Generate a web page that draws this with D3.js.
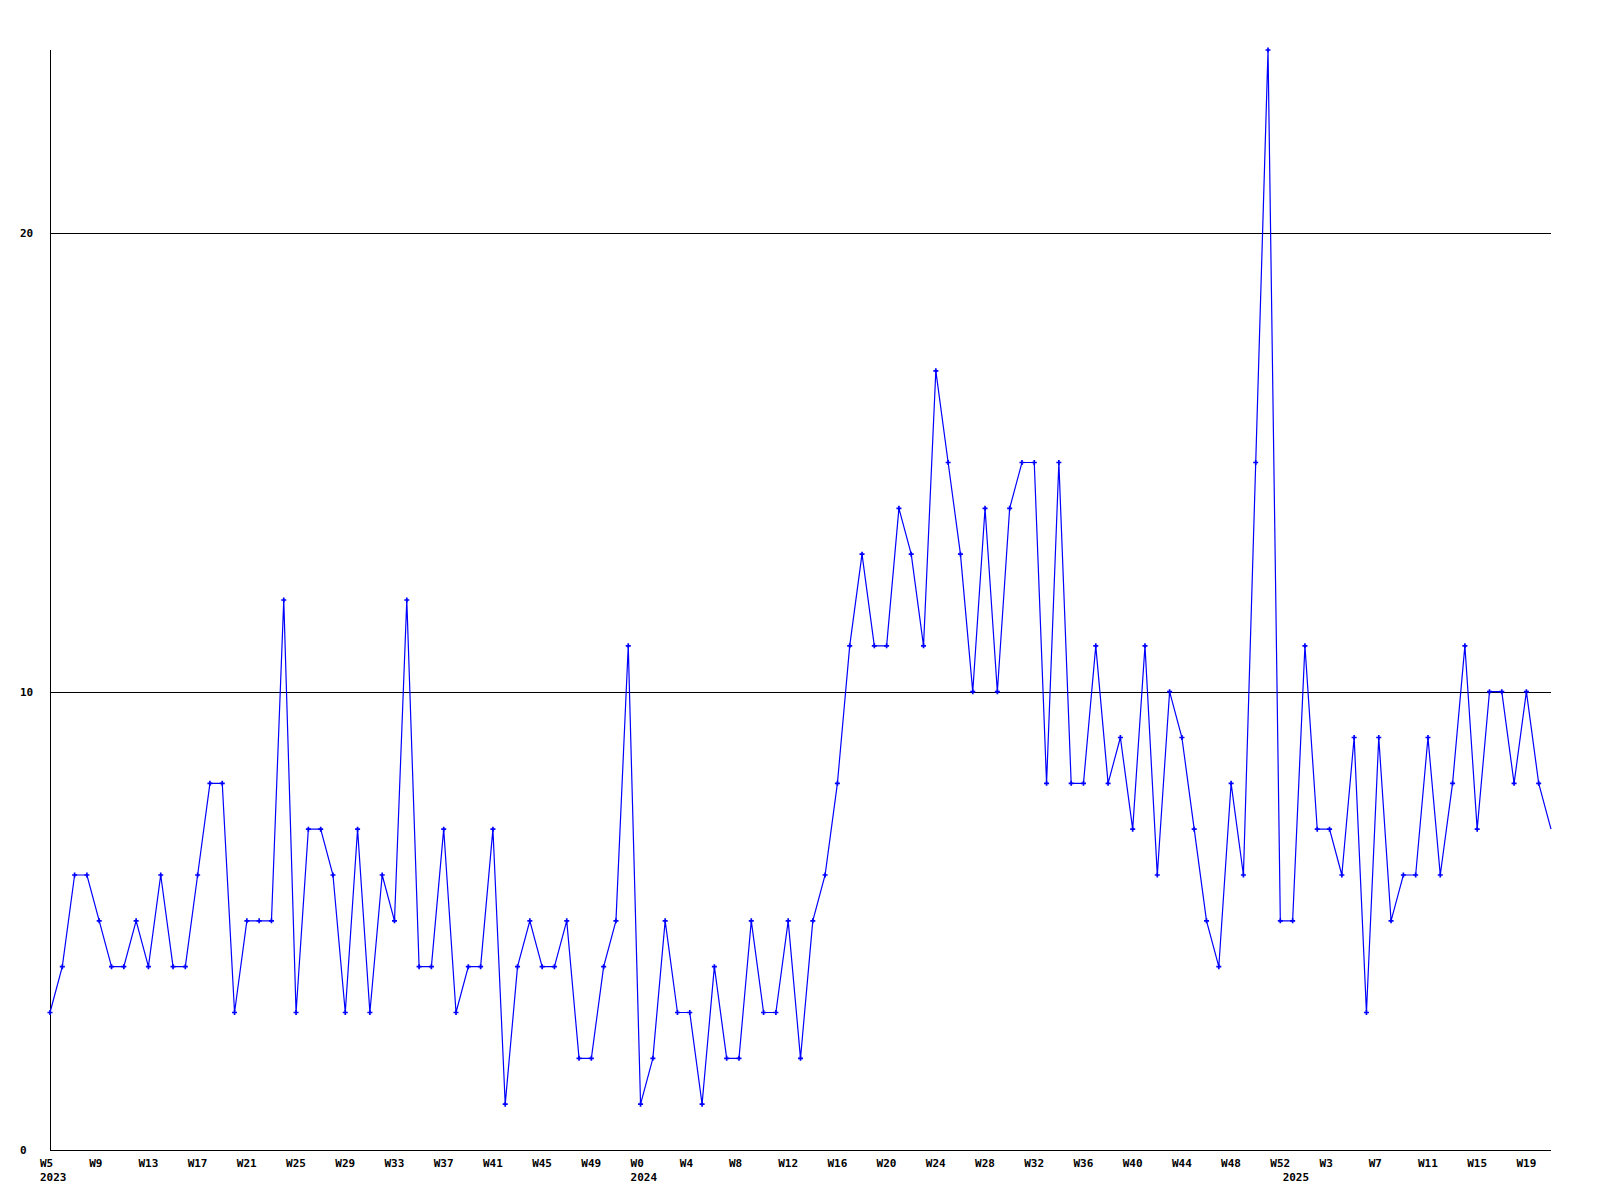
<!DOCTYPE html>
<html>
<head>
<meta charset="utf-8">
<script src="https://cdn.jsdelivr.net/npm/d3@7"></script>
<style>
  html, body { margin: 0; padding: 0; background: #ffffff; }
  svg { display: block; }
  text { font-family: "DejaVu Sans Mono", "Liberation Mono", monospace; font-weight: bold; font-size: 11px; fill: #000; }
</style>
</head>
<body>
<svg id="chart" width="1600" height="1200"></svg>
<script>
// ---- data ----
const years = ["2023", "2024", "2025"];
const yearFirstWeek = [5, 0, 0];

const values2023 = [3,4,6,6,5,4,4,5,4,6, 4,4,6,8,8,3,5,5,5,12, 3,7,7,6,3,7,3,6,5,12, 4,4,7,3,4,4,7,1,4,5, 4,4,5,2,2,4,5,11];
const values2024 = [1,2,5,3,3,1,4,2,2,5, 3,3,5,2,5,6,8,11,13,11, 11,14,13,11,17,15,13,10,14,10, 14,15,15,8,15,8,8,11,8,9, 7,11,6,10,9,7,5,4,8,6, 15,24,5];
const values2025 = [5,11,7,7,6,9,3,9,5,6, 6,9,6,8,11,7,10,10,8,10, 8,7];

const yTickValues = [0, 10, 20];
const gridValues = [10, 20];
const yMax = 24;
const tickEvery = 4;

// ---- build table ----
const seriesByYear = [values2023, values2024, values2025];
const data = [];
years.forEach((yr, yi) => {
  let w = yearFirstWeek[yi];
  seriesByYear[yi].forEach(v => {
    data.push({ key: yr + "-W" + w, year: yr, week: w, value: v });
    w++;
  });
});

// ---- layout ----
const plotL = 50, plotR = 1551, plotT = 50, plotB = 1150;
const svg = d3.select("#chart");

const x = d3.scalePoint().domain(data.map(d => d.key)).range([plotL, plotR]).padding(0);
const y = d3.scaleLinear().domain([0, yMax]).range([plotB, plotT]);

// grid lines
svg.append("g").selectAll("line").data(gridValues).join("line")
  .attr("x1", plotL).attr("x2", plotR)
  .attr("y1", d => Math.round(y(d)) + 0.5).attr("y2", d => Math.round(y(d)) + 0.5)
  .attr("stroke", "#000").attr("stroke-width", 1).attr("shape-rendering", "crispEdges");

// axes lines
svg.append("line").attr("x1", plotL + 0.5).attr("x2", plotL + 0.5).attr("y1", plotT).attr("y2", plotB + 1)
  .attr("stroke", "#000").attr("shape-rendering", "crispEdges");
svg.append("line").attr("x1", plotL).attr("x2", plotR).attr("y1", plotB + 0.5).attr("y2", plotB + 0.5)
  .attr("stroke", "#000").attr("shape-rendering", "crispEdges");

// y labels
svg.append("g").selectAll("text").data(yTickValues).join("text")
  .attr("x", 20).attr("y", d => y(d) + 4)
  .text(d => d);

// x tick labels
const tickData = data.filter((d, i) => i % tickEvery === 0);
svg.append("g").selectAll("text").data(tickData).join("text")
  .attr("x", d => x(d.key) - 10).attr("y", 1167)
  .text(d => "W" + d.week);

// year labels
const yearStart = years.map(yr => data.find(d => d.year === yr));
svg.append("g").selectAll("text").data(yearStart).join("text")
  .attr("x", d => x(d.key) - 10).attr("y", 1181)
  .text(d => d.year);

// line
const line = d3.line().x(d => x(d.key)).y(d => y(d.value));
svg.append("path").datum(data)
  .attr("d", line)
  .attr("fill", "none").attr("stroke", "#0000ff").attr("stroke-width", 1.2);

// markers (last point is cut by the plot edge)
const sym = d3.symbol().type(d3.symbolCross).size(14);
svg.append("g").selectAll("path").data(data.slice(0, data.length - 1)).join("path")
  .attr("transform", d => `translate(${x(d.key)},${y(d.value)})`)
  .attr("d", sym)
  .attr("fill", "#0000ff");
</script>
</body>
</html>
